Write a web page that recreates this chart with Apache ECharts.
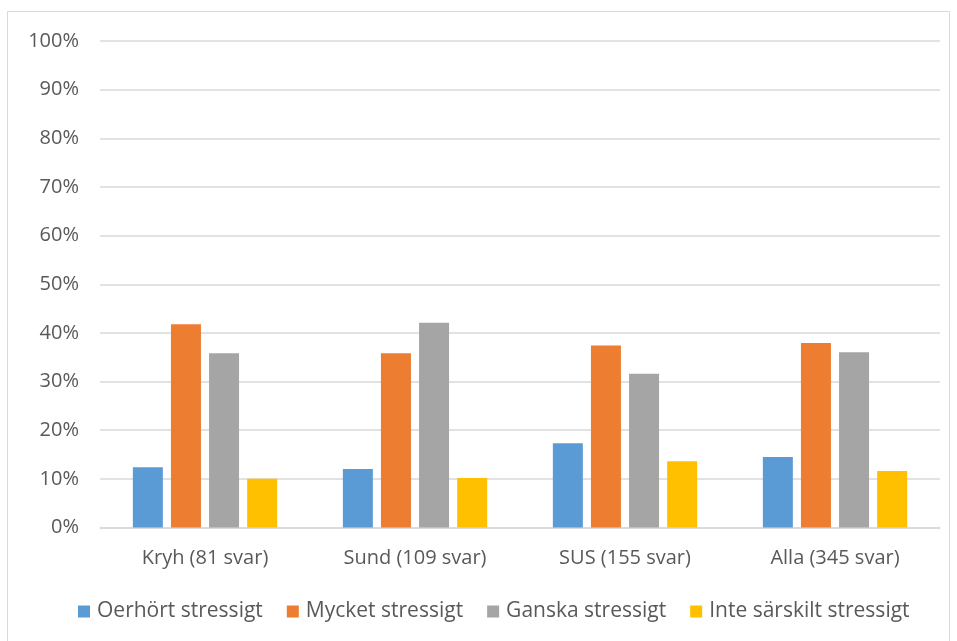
<!DOCTYPE html>
<html>
<head>
<meta charset="utf-8">
<script src="https://cdn.jsdelivr.net/npm/echarts@6/dist/echarts.min.js"></script>
<style>
  html, body { margin: 0; padding: 0; background: #fff; }
  #chart { width: 957px; height: 641px; }
</style>
</head>
<body>
<div id="chart"></div>
<script>
// Kategorier och andelar (procent) per svarsalternativ
const categories = ['Kryh (81 svar)', 'Sund (109 svar)', 'SUS (155 svar)', 'Alla (345 svar)'];
const seriesNames = ['Oerhört stressigt', 'Mycket stressigt', 'Ganska stressigt', 'Inte särskilt stressigt'];
const oerhort = [12.4, 12.0, 17.3, 14.5];
const mycket = [41.8, 35.8, 37.4, 37.9];
const ganska = [35.8, 42.1, 31.6, 36.0];
const inteSarskilt = [10.0, 10.2, 13.6, 11.6];
const colors = ['#5b9bd5', '#ed7d31', '#a5a5a5', '#ffc000'];

const values = [oerhort, mycket, ganska, inteSarskilt];
const chart = echarts.init(document.getElementById('chart'));
const labelFont = '"Open Sans", sans-serif';

chart.setOption({
  animation: false,
  backgroundColor: '#fff',
  graphic: [{
    type: 'rect',
    shape: { x: 7.5, y: 11.5, width: 942, height: 640 },
    style: { fill: 'none', stroke: '#d9d9d9', lineWidth: 1 }
  }],
  grid: { left: 100, right: 17, top: 41, bottom: 113.5, containLabel: false },
  legend: {
    bottom: 14,
    left: 73,
    itemWidth: 12,
    itemHeight: 12,
    itemGap: 24,
    icon: 'rect',
    textStyle: { color: '#595959', fontSize: 21, fontFamily: labelFont, padding: [0, 0, 0, 2] },
    data: seriesNames
  },
  xAxis: {
    type: 'category',
    data: categories,
    axisLine: { show: true, lineStyle: { color: '#d9d9d9', width: 1.5 } },
    axisTick: { show: false },
    axisLabel: { color: '#595959', fontSize: 20, fontFamily: labelFont, margin: 21 }
  },
  yAxis: {
    type: 'value',
    min: 0,
    max: 100,
    interval: 10,
    axisLine: { show: false },
    axisTick: { show: false },
    splitLine: { lineStyle: { color: '#d9d9d9', width: 1.5 } },
    axisLabel: {
      color: '#595959', fontSize: 20, fontFamily: labelFont, margin: 21,
      formatter: v => v + '%'
    }
  },
  series: seriesNames.map((name, i) => ({
    name: name,
    type: 'bar',
    data: values[i],
    barWidth: 30,
    barGap: '27%',
    itemStyle: { color: colors[i] }
  }))
});
</script>
</body>
</html>
